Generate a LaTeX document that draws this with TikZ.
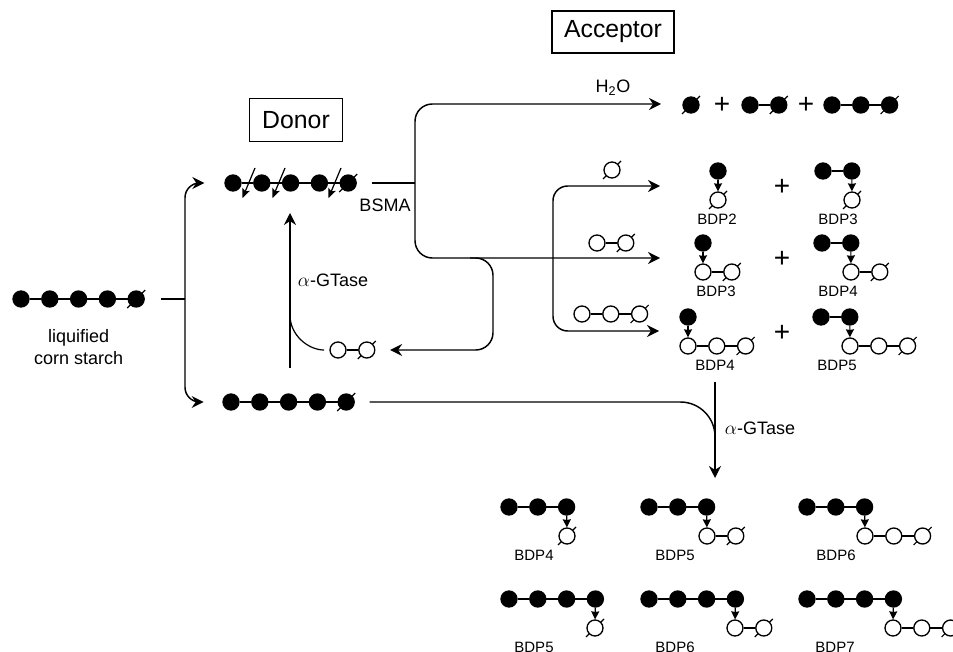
\documentclass[tikz,border=0pt]{standalone}
\usepackage{fontspec}
\setmainfont{Liberation Sans}
\usetikzlibrary{arrows.meta,positioning,calc}
\tikzset{
  sugarbase/.style={
    circle, draw=black, line width=1pt, inner sep=0pt, minimum size=12pt
  },
  sugarg/.style={sugarbase, fill=black},
  sugaro/.style={sugarbase, fill=white},
  residueslash/.style={
    append after command={\pgfextra{
      \draw[line width=0.9pt] ([shift={(-6.75pt,-6.75pt)}]\tikzlastnode.center)
        -- ([shift={(6.75pt,6.75pt)}]\tikzlastnode.center);}}
  },
  sugarf/.style={sugarg, residueslash},
  sugars/.style={sugaro, residueslash},
  sugarlink/.style={line width=1pt},
  glyclink/.style={line width=0.9pt, -{Stealth[length=6pt,width=6pt,inset=0.5pt]}},
  flowline/.style={line width=1.1pt},
  flowarrow/.style={flowline, -{Stealth[length=9pt,width=9pt,inset=3pt]}},
  titlebox/.style={draw=black, line width=0.8pt, font=\fontsize{18.6}{20}\selectfont},
  steplabel/.style={font=\fontsize{13.5}{16}\selectfont, align=center},
  bdplabel/.style={font=\fontsize{11.25}{13}\selectfont},
  plusnode/.style={font=\fontsize{21}{21}\selectfont, inner sep=0pt},
}
% chain of residues: prefix, x, y, kinds
\newcommand{\sugarchain}[4]{
  \foreach \k [count=\i, remember=\i as \prev (initially 0)] in {#4} {
    \node[sugar\k] (#1\i) at ({#2+28.8*(\i-1)},#3) {};
    \ifnum\i>1 \draw[sugarlink] (#1\prev) -- (#1\i); \fi
  }
}
% product: name, x, y, upper kinds, last upper index, x of lower, lower kinds, label x, label
\newcommand{\bdpunit}[9]{
  \sugarchain{#1u}{#2}{#3}{#4}
  \sugarchain{#1l}{#6}{#3+29}{#7}
  \draw[glyclink] (#1u#5) -- (#1l1);
  \node[bdplabel] (#1lab) at (#8,#3+48.5) {#9};
}
\begin{document}
\begin{tikzpicture}[x=0.75pt,y=-0.75pt]
  \useasboundingbox (0,0) rectangle (953,652);

  % Titles
  \node[titlebox, minimum width=69.75pt, minimum height=32pt] (donor) at (296,120) {Donor};
  \node[titlebox, minimum width=91.5pt, minimum height=31.5pt] (acceptor) at (613,32) {Acceptor};

  % Substrate and donor chains
  \sugarchain{liq}{21}{299}{g,g,g,g,f}
  \node[steplabel, below=13pt of liq3] (liqlab) {liquified\\corn starch};
  \sugarchain{don}{233}{183}{g,g,g,g,f}
  \sugarchain{bot}{231}{402}{g,g,g,g,f}

  % Cleavage arrows on the donor
  \foreach \j/\x in {1/255,2/285,3/341} {
    \coordinate (cuta\j) at (\x,168);
    \coordinate (cutb\j) at (\x-12.5,198);
    \draw[line width=0.9pt, -{Stealth[length=7pt,width=6pt,inset=1.5pt]}] (cuta\j) -- (cutb\j);
  }

  % Feed
  \coordinate (trunk) at (185,299);
  \draw[flowline, shorten <=12.4pt] (liq5) -- (trunk);
  \draw[flowarrow, rounded corners=11pt, shorten >=15pt] (trunk) |- (don1);
  \draw[flowarrow, rounded corners=11pt, shorten >=14pt] (trunk) |- (bot1);

  % Recycled acceptor
  \sugarchain{gt}{338}{350}{o,s}
  \coordinate (gtfoot) at (290,368);
  \coordinate (gttip) at (290,213);
  \coordinate (gtjoin) at (290,315);
  \draw[flowarrow] (gtfoot) -- (gttip);
  \draw[line width=0.9pt, shorten <=4pt] (gt1) to[out=180,in=-90] (gtjoin);
  \node[steplabel] (gtaselab) at (333,280) {$\alpha$-GTase};

  % BSMA hub
  \coordinate (hub) at (415,183);
  \coordinate (hubmid) at (415,258);
  \coordinate (h2otip) at (661,104);
  \coordinate (row2tip) at (660,258);
  \draw[flowline, shorten <=11pt] (don5) -- (hub);
  \node[steplabel] (bsmalab) at (385,205) {BSMA};
  \draw[flowarrow, rounded corners=13pt] (hub) |- (h2otip);
  \draw[flowarrow, rounded corners=13pt] (hub) |- (row2tip);
  \node[steplabel] (h2olab) at (613,88) {H\textsubscript{2}O};

  % Return branch
  \coordinate (reta) at (470,258);
  \coordinate (retb) at (493,305);
  \draw[flowarrow, rounded corners=13pt, shorten >=11pt] (reta) -| (retb) |- (gt2);

  % Acceptor bracket
  \coordinate (brk) at (553,258);
  \coordinate (row1tip) at (660,186);
  \coordinate (row3tip) at (659,331);
  \draw[flowarrow, rounded corners=11pt] (brk) |- (row1tip);
  \draw[flowarrow, rounded corners=11pt] (brk) |- (row3tip);
  \sugarchain{aca}{612}{170}{s}
  \sugarchain{acb}{597}{243}{o,s}
  \sugarchain{acc}{582}{314}{o,o,s}

  % Hydrolysis products
  \sugarchain{hya}{691}{105}{f}
  \node[plusnode] (hyp1) at (722,105) {+};
  \sugarchain{hyb}{750}{105}{g,f}
  \node[plusnode] (hyp2) at (806,105) {+};
  \sugarchain{hyc}{832}{105}{g,g,f}

  % Transfer products
  \bdpunit{pa}{718}{171}{g}{1}{718}{s}{717}{BDP2}
  \node[plusnode] (plusa) at (782,187) {+};
  \bdpunit{pb}{823}{171}{g,g}{2}{852}{s}{838}{BDP3}
  \bdpunit{pc}{703}{243}{g}{1}{703}{o,s}{716}{BDP3}
  \node[plusnode] (plusb) at (782,259) {+};
  \bdpunit{pd}{822}{243}{g,g}{2}{851}{o,s}{838}{BDP4}
  \bdpunit{pe}{688}{317}{g}{1}{688}{o,o,s}{715}{BDP4}
  \node[plusnode] (plusc) at (782,333) {+};
  \bdpunit{pf}{821}{317}{g,g}{2}{850}{o,o,s}{837}{BDP5}

  % Second transfer
  \coordinate (bigtip) at (715,478);
  \coordinate (bigjoin) at (715,440);
  \draw[flowarrow, shorten <=5pt] (pelab) -- (bigtip);
  \draw[flowline, rounded corners=26pt, shorten <=11pt] (bot5) -| (bigjoin);
  \node[steplabel] (gtaselabb) at (760,428) {$\alpha$-GTase};

  % Final products
  \bdpunit{qa}{509}{507}{g,g,g}{3}{567}{s}{534}{BDP4}
  \bdpunit{qb}{649}{507}{g,g,g}{3}{707}{o,s}{675}{BDP5}
  \bdpunit{qc}{807}{507}{g,g,g}{3}{865}{o,o,s}{836}{BDP6}
  \bdpunit{qd}{509}{599}{g,g,g,g}{4}{595}{s}{534}{BDP5}
  \bdpunit{qe}{649}{599}{g,g,g,g}{4}{735}{o,s}{675}{BDP6}
  \bdpunit{qf}{807}{599}{g,g,g,g}{4}{893}{o,o,s}{835}{BDP7}
\end{tikzpicture}
\end{document}
